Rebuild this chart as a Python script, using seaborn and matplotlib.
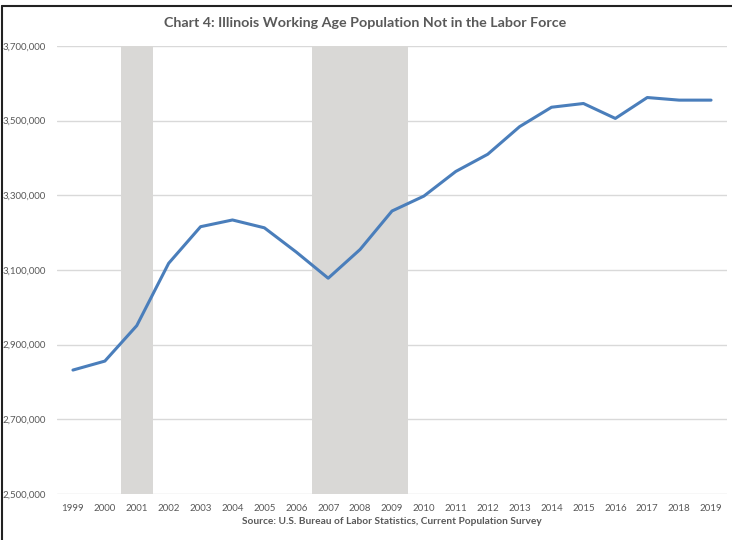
#### Illinois working age population not in the labor force, 1999-2019

import pandas as pd
import numpy as np
import matplotlib.pyplot as plt
import matplotlib.lines as mlines
import seaborn as sns

#### Data
years = list(range(1999, 2020))
not_in_lf = [2832000, 2856000, 2951000, 3118000, 3216000, 3234000, 3213000,
             3148000, 3078000, 3155000, 3258000, 3298000, 3364000, 3410000,
             3484000, 3536000, 3546000, 3506000, 3562000, 3555000, 3555000]
recession_start = [2000.5, 2006.5]
recession_end = [2001.5, 2009.5]
y_ticks = [2500000, 2700000, 2900000, 3100000, 3300000, 3500000, 3700000]

df = pd.DataFrame({'year': years, 'pop': not_in_lf})

sns.set_theme(style='white')
plt.rcParams['font.family'] = ['Lato', 'DejaVu Sans']
grey = '#595959'

fig = plt.figure(figsize=(7.32, 5.4), dpi=100)
ax = fig.add_axes([57/732, 1 - 494/540, 670/732, 448/540])

for s, e in zip(recession_start, recession_end):
    ax.axvspan(s, e, color='#d9d8d6', lw=0, zorder=1)

for t in y_ticks:
    ax.axhline(t, color='#d9d9d9', lw=1, zorder=0.5)

sns.lineplot(data=df, x='year', y='pop', ax=ax, color='#4a7ebb', lw=2.2, zorder=3)

ax.set_xlim(1998.5, 2019.5)
ax.set_ylim(y_ticks[0], y_ticks[-1])
ax.set_xticks(years)
ax.set_xticklabels([str(y) for y in years], fontsize=7, color=grey)
ax.set_yticks(y_ticks)
ax.set_yticklabels([f'{t:,}' for t in y_ticks], fontsize=7, color=grey)
ax.tick_params(axis='both', length=0, pad=8)
ax.tick_params(axis='x', pad=7)
ax.set_xlabel('')
ax.set_ylabel('')
for sp in ax.spines.values():
    sp.set_visible(False)

fig.text(365/732, 1 - 23/540, 'Chart 4: Illinois Working Age Population Not in the Labor Force',
         ha='center', va='center', fontsize=10.3, fontweight='bold', color=grey)
fig.text(392/732, 1 - 522/540, 'Source: U.S. Bureau of Labor Statistics, Current Population Survey',
         ha='center', va='center', fontsize=7.3, fontweight='bold', color=grey)

# outer frame (cropped on the right and bottom)
fig.add_artist(mlines.Line2D([2/732, 2/732], [0, 1 - 6/540], color='#222222', lw=1.5, transform=fig.transFigure))
fig.add_artist(mlines.Line2D([2/732, 1], [1 - 6/540, 1 - 6/540], color='#222222', lw=1.5, transform=fig.transFigure))

plt.savefig('out.png', dpi=100)
